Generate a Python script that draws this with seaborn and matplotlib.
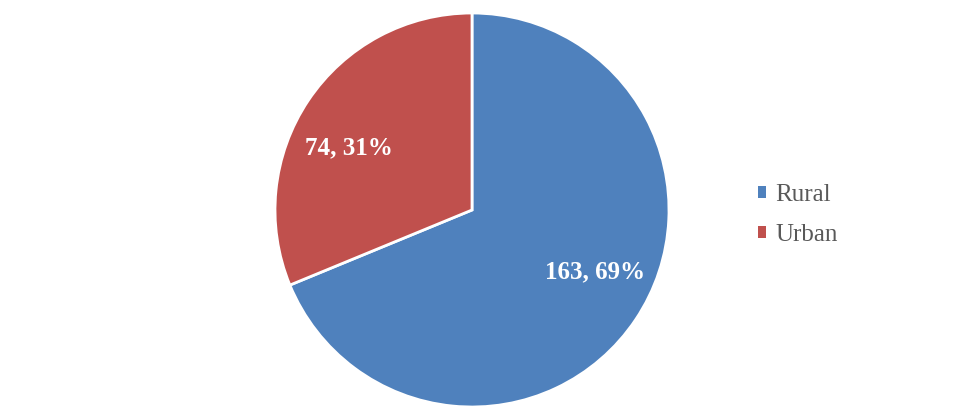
import matplotlib
matplotlib.use("Agg")
import matplotlib.pyplot as plt
import seaborn as sns
import numpy as np
from matplotlib.patches import Patch

sns.set_theme(style="white")
plt.rcParams['font.family'] = ['Liberation Serif', 'DejaVu Serif']

categories = ["Rural", "Urban"]
values = [163, 74]
colors = ["#4F81BD", "#C0504D"]

fig = plt.figure(figsize=(9.76, 4.2), dpi=100)
ax = fig.add_axes([275/976, 13/420, 394/976, 394/420])
total = sum(values)

def fmt(p):
    v = round(p * total / 100)
    return f"{v}, {p:.0f}%"

wedges, texts, autotexts = ax.pie(
    values, colors=colors, startangle=90, counterclock=False,
    autopct=fmt, pctdistance=0.7,
    wedgeprops=dict(edgecolor="white", linewidth=2),
    textprops=dict(color="white", fontsize=18, fontweight="bold"),
)
# best-fit style label placement: rotate label slightly within wedge
for w, t in zip(wedges, autotexts):
    mid = np.deg2rad((w.theta1 + w.theta2) / 2 + 7)
    t.set_position((0.7 * np.cos(mid), 0.7 * np.sin(mid)))

ax.set_aspect("equal")
ax.set_xlim(-1, 1)
ax.set_ylim(-1, 1)

handles = [Patch(facecolor=c, edgecolor='none', label=l) for c, l in zip(colors, categories)]
fig.legend(handles=handles, loc="center left", bbox_to_anchor=(735/976, 1 - 215/420),
           frameon=False, fontsize=18, labelcolor="#595959",
           handlelength=0.35, handleheight=0.35, handletextpad=0.35, labelspacing=0.7)

fig.savefig("out.png", dpi=100)
